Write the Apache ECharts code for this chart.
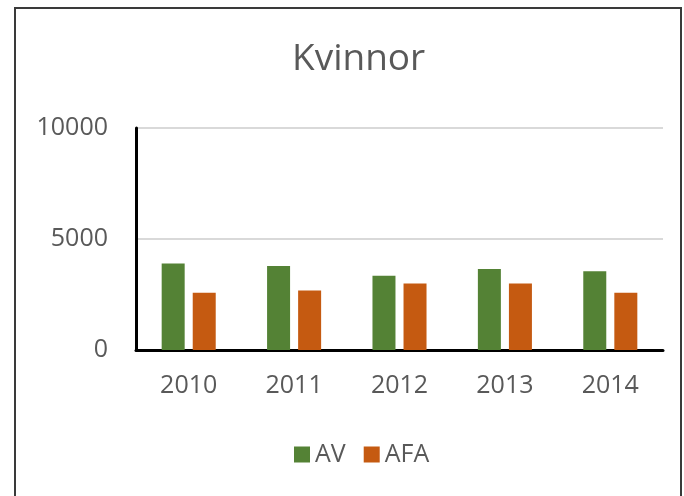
<!DOCTYPE html>
<html lang="sv">
<head>
    <meta charset="UTF-8"/>
    <script src="https://cdn.jsdelivr.net/npm/echarts@6/dist/echarts.min.js"></script>
    <title>Kvinnor</title>
    <style>
        body { margin: 0; background: #fff; }
    </style>
</head>
<body>
<div id="main" style="width: 684px;height:496px;"></div>
<script type="text/javascript">
    // data
    var years = ['2010', '2011', '2012', '2013', '2014'];
    var avValues = [3900, 3780, 3350, 3650, 3550];
    var afaValues = [2580, 2680, 3000, 3000, 2580];
    var yTicks = [0, 5000, 10000];

    var myChart = echarts.init(document.getElementById('main'));
    var font = 'Open Sans';

    var option = {
        backgroundColor: '#ffffff',
        animation: false,
        title: {
            text: 'Kvinnor',
            left: 287,
            top: 36,
            textStyle: {
                color: '#595959',
                fontFamily: font,
                fontWeight: 'normal',
                fontSize: 37
            }
        },
        graphic: [{
            type: 'rect',
            shape: { x: 15, y: 8, width: 666, height: 520 },
            style: { fill: null, stroke: '#3a3a3a', lineWidth: 2 },
            silent: true
        }],
        legend: {
            left: 289,
            top: 437,
            icon: 'rect',
            itemWidth: 16,
            itemHeight: 16,
            itemGap: 18,
            textStyle: { color: '#595959', fontFamily: font, fontSize: 25 },
            data: ['AV', 'AFA']
        },
        grid: {
            left: 136,
            right: 21,
            top: 128,
            bottom: 146
        },
        xAxis: {
            type: 'category',
            data: years,
            axisLine: { lineStyle: { color: '#000', width: 3 } },
            axisTick: { show: false },
            axisLabel: { color: '#595959', fontFamily: font, fontSize: 25, margin: 23 }
        },
        yAxis: {
            type: 'value',
            min: yTicks[0],
            max: yTicks[yTicks.length - 1],
            interval: yTicks[1] - yTicks[0],
            axisLine: { show: true, lineStyle: { color: '#000', width: 3 } },
            axisTick: { show: false },
            axisLabel: {
                color: '#595959', fontFamily: font, fontSize: 25, margin: 28,
                formatter: function (v) { return String(v); }
            },
            splitLine: { lineStyle: { color: '#d9d9d9', width: 2 } }
        },
        series: [
            {
                name: 'AV',
                type: 'bar',
                data: avValues,
                barWidth: 23,
                barGap: '35%',
                itemStyle: { color: '#548235' }
            },
            {
                name: 'AFA',
                type: 'bar',
                data: afaValues,
                barWidth: 23,
                itemStyle: { color: '#c55a11' }
            }
        ]
    };

    myChart.setOption(option);
</script>
</body>
</html>
